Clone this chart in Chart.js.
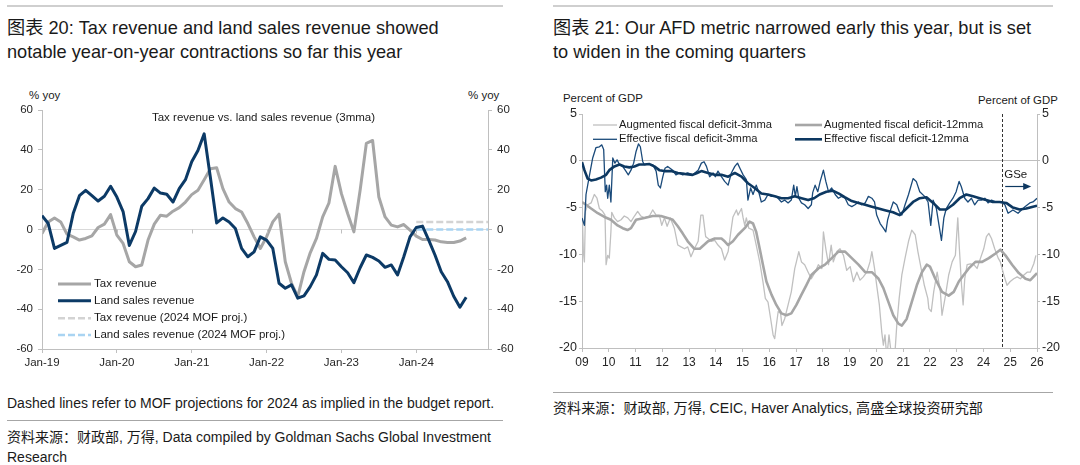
<!DOCTYPE html>
<html><head><meta charset="utf-8">
<script src="https://cdn.jsdelivr.net/npm/chart.js@4.4.1/dist/chart.umd.min.js"></script>
<style>
html,body{margin:0;padding:0;background:#fff;}
body{width:1080px;height:465px;position:relative;overflow:hidden;font-family:"Liberation Sans",Arial,"Noto Sans CJK SC",sans-serif;color:#1a1a1a;}
.rule{position:absolute;}
.title{position:absolute;font-size:18.2px;line-height:23.5px;white-space:nowrap;color:#1a1a1a;}
.note{position:absolute;font-size:14px;line-height:20px;white-space:nowrap;color:#1a1a1a;}
.unit{position:absolute;font-size:11.5px;line-height:14px;white-space:nowrap;color:#1a1a1a;}
canvas{position:absolute;}
</style></head>
<body>
<div class="rule" style="left:7px;top:5px;width:496px;height:2px;background:#cfcfcf"></div>
<div class="rule" style="left:553px;top:5px;width:500px;height:2px;background:#cfcfcf"></div>
<div class="title" style="left:7px;top:17px">图表 20: Tax revenue and land sales revenue showed<br>notable year-on-year contractions so far this year</div>
<div class="title" style="left:553px;top:17px">图表 21: Our AFD metric narrowed early this year, but is set<br>to widen in the coming quarters</div>

<div class="unit" style="left:29px;top:88px">% yoy</div>
<div class="unit" style="left:468px;top:88px">% yoy</div>
<div class="unit" style="left:563px;top:91px;font-size:11.4px">Percent of GDP</div>
<div class="unit" style="left:978px;top:93px;font-size:11.4px">Percent of GDP</div>

<canvas id="left" width="540" height="290" style="left:0;top:85px;width:540px;height:290px"></canvas>
<canvas id="right" width="535" height="290" style="left:545px;top:85px;width:535px;height:290px"></canvas>

<div class="note" style="left:7px;top:393px">Dashed lines refer to MOF projections for 2024 as implied in the budget report.</div>
<div class="rule" style="left:7px;top:420px;width:496px;height:1px;background:#a6a6a6"></div>
<div class="note" style="left:7px;top:427px">资料来源：财政部, 万得, Data compiled by Goldman Sachs Global Investment<br>Research</div>
<div class="rule" style="left:553px;top:392px;width:500px;height:1px;background:#a6a6a6"></div>
<div class="note" style="left:553px;top:398px;font-size:14.1px">资料来源：财政部, 万得, CEIC, Haver Analytics, 高盛全球投资研究部</div>

<script>
// ---------------- LEFT CHART DATA (monthly, Jan-19 = index 0, 3mma % yoy) ----------------
const leftInnerTitle = 'Tax revenue vs. land sales revenue (3mma)';
const xTickLabels = ['Jan-19','Jan-20','Jan-21','Jan-22','Jan-23','Jan-24'];
const xTickMonths = [0, 12, 24, 36, 48, 60];
const taxRevenue = [
  -2, 3.8, 5.8, 3.8, -2.3, -3.7, -5.3, -4.5, -3.2, 1, 2.7, 7.5,
  -2.8, -7, -16.2, -18.7, -17.8, -5.3, 2.7, 7.2, 6.7, 9.2, 11, 13.8,
  17.5, 19.7, 25, 30.5, 31, 20.5, 13.8, 10.5, 8.8, 3, -3.7, -9.5,
  -3.7, 3.8, 7.7, -16.2, -27, -33.7, -21.2, -11.7, -4.5, 6.3, 13.3, 31.7,
  18, 8, -1.2, 19.7, 43.3, 44.7, 16.3, 6.3, 2.2, 1.3, 2.5, -0.3,
  -3.3, -5, -5, -5.3, -6.2, -6.5, -6.5, -5.8, -4.2
];
const landRevenue = [
  7, 3, -9.5, -8, -6.5, 8, 17, 19.7, 17, 14.3, 16.7, 21.7,
  16.3, 9, -8, -1, 11.7, 15.5, 20.8, 18.3, 17.7, 13.8, 20.5, 25,
  34, 39.7, 48, 26, 3.3, 5.8, 3.8, 0.5, -9.5, -13.7, -11.2, -3.7,
  -5.3, -9.5, -27, -29.5, -27.8, -34.5, -33.3, -28.7, -22.8, -12, -15, -15.3,
  -18.7, -21.7, -26.7, -19.2, -12.8, -14, -15.8, -19, -17.8, -22.8, -13.7, -3.7,
  1, 1.7, -5.3, -12.8, -21.2, -26.2, -33.5, -39, -34
];
const projMonths = [60, 71.5];
const taxProj = [3.8, 3.8];
const landProj = [0, 0];

// ---------------- RIGHT CHART DATA ([decimal year, % of GDP]) ----------------
const forecastStart = 2024.7;
const augThin = [
 [2009.0,-4.4],[2009.05,-9.7],[2009.09,-10.8],[2009.13,-5.4],[2009.21,-4.7],[2009.34,-4.5],[2009.46,-3.6],[2009.56,-4.0],[2009.65,-5.1],[2009.77,-5.4],[2009.86,-5.8],[2009.9,-11.1],[2009.96,-10.1],
 [2010.02,-10.4],[2010.08,-7.6],[2010.11,-5.5],[2010.21,-6.1],[2010.33,-6.5],[2010.46,-6.3],[2010.58,-5.9],[2010.71,-6.1],[2010.83,-6.5],[2010.96,-5.9],
 [2011.08,-5.4],[2011.2,-5.9],[2011.33,-6.1],[2011.52,-5.9],[2011.64,-5.25],[2011.77,-5.8],[2011.89,-5.8],[2011.98,-6.9],
 [2012.08,-6.1],[2012.18,-7.0],[2012.3,-6.1],[2012.45,-7.2],[2012.58,-9.0],[2012.7,-9.2],[2012.83,-9.4],[2012.95,-9.2],
 [2013.07,-10.25],[2013.2,-9.4],[2013.34,-8.6],[2013.44,-5.8],[2013.52,-5.8],[2013.62,-8.1],[2013.71,-8.3],[2013.83,-8.6],[2013.96,-8.5],
 [2014.08,-9.0],[2014.21,-9.4],[2014.33,-10.6],[2014.46,-9.7],[2014.56,-7.6],[2014.64,-6.0],[2014.77,-5.25],[2014.83,-5.8],[2014.96,-5.1],
 [2015.02,-6.1],[2015.08,-6.9],[2015.14,-6.1],[2015.23,-7.2],[2015.39,-7.4],[2015.51,-9.0],[2015.64,-10.8],[2015.76,-12.9],[2015.85,-14.7],[2015.95,-15.1],
 [2016.05,-16.9],[2016.14,-18.6],[2016.2,-19.0],[2016.26,-17.6],[2016.33,-16.1],[2016.42,-16.3],[2016.47,-17.6],[2016.57,-16.9],[2016.7,-15.4],[2016.82,-14.0],[2016.95,-11.5],
 [2017.01,-10.8],[2017.1,-9.7],[2017.2,-10.8],[2017.32,-11.1],[2017.45,-11.9],[2017.57,-12.6],[2017.71,-11.9],[2017.83,-11.1],[2017.96,-11.5],
 [2018.02,-7.6],[2018.11,-9.4],[2018.21,-11.1],[2018.31,-9.0],[2018.39,-10.8],[2018.52,-9.7],[2018.64,-9.4],[2018.77,-10.1],[2018.89,-11.7],
 [2019.02,-11.3],[2019.14,-12.9],[2019.27,-11.9],[2019.39,-12.75],[2019.51,-12.4],[2019.64,-11.9],[2019.76,-10.8],[2019.83,-9.7],[2019.93,-11.5],
 [2020.01,-13.3],[2020.11,-15.4],[2020.2,-18.3],[2020.26,-19.7],[2020.32,-18.6],[2020.39,-21],[2020.47,-18.6],[2020.57,-21],[2020.67,-21.5],[2020.76,-17.6],[2020.85,-14.7],[2020.95,-12.2],
 [2021.07,-10.4],[2021.2,-8.6],[2021.32,-7.4],[2021.45,-7.9],[2021.55,-9.7],[2021.67,-11.5],[2021.79,-13.3],[2021.92,-14.7],[2021.96,-15.8],
 [2022.05,-16.1],[2022.14,-14.0],[2022.27,-11.9],[2022.39,-14.0],[2022.45,-16.5],[2022.58,-14.4],[2022.7,-12.2],[2022.83,-10.8],[2022.95,-10.1],
 [2023.04,-6.1],[2023.1,-9.4],[2023.18,-13.3],[2023.24,-15.4],[2023.3,-12.6],[2023.39,-11.1],[2023.51,-11.0],[2023.64,-11.1],[2023.76,-11.5],[2023.89,-10.4],
 [2024.01,-9.4],[2024.11,-8.1],[2024.2,-7.75],[2024.3,-8.3],[2024.42,-9.4],[2024.55,-10.4],[2024.63,-10.8],[2024.76,-12.2],[2024.88,-13.3],
 [2025.0,-12.9],[2025.13,-12.6],[2025.26,-12.4],[2025.38,-12.6],[2025.51,-12.2],[2025.63,-11.9],[2025.75,-11.9],[2025.88,-11.0],[2025.96,-10.1]
];
const augThick = [
 [2009.0,-4.4],[2009.15,-4.7],[2009.34,-5.1],[2009.59,-5.6],[2009.84,-6.0],[2010.08,-6.3],[2010.33,-6.9],[2010.52,-7.2],[2010.7,-7.4],[2010.83,-7.2],
 [2011.02,-6.3],[2011.33,-6.1],[2011.64,-5.9],[2011.95,-5.9],[2012.2,-6.1],[2012.39,-6.3],[2012.58,-7.0],[2012.76,-7.75],[2012.95,-8.6],
 [2013.2,-9.4],[2013.4,-9.4],[2013.71,-8.6],[2013.96,-8.3],[2014.21,-8.3],[2014.33,-8.6],[2014.46,-9.0],[2014.64,-8.6],[2014.83,-7.9],
 [2015.08,-7.2],[2015.26,-6.5],[2015.39,-6.7],[2015.51,-7.6],[2015.64,-9.4],[2015.76,-11.1],[2015.89,-12.9],[2016.08,-14.3],[2016.26,-15.4],
 [2016.45,-16.3],[2016.64,-16.5],[2016.82,-16.3],[2017.01,-15.4],[2017.2,-14.3],[2017.38,-13.3],[2017.57,-12.2],[2017.83,-11.5],
 [2018.08,-11.1],[2018.33,-10.4],[2018.58,-9.7],[2018.83,-9.7],[2019.08,-10.4],[2019.33,-11.1],[2019.58,-11.9],[2019.83,-11.9],
 [2020.08,-12.6],[2020.26,-13.6],[2020.45,-15.1],[2020.63,-16.5],[2020.82,-17.4],[2020.95,-17.6],[2021.13,-16.9],[2021.32,-15.1],
 [2021.51,-13.3],[2021.7,-11.9],[2021.88,-11.1],[2022.0,-11.3],[2022.2,-12.6],[2022.45,-14.0],[2022.7,-14.4],[2022.89,-14.0],
 [2023.08,-12.9],[2023.26,-12.2],[2023.45,-11.5],[2023.7,-10.8],[2023.95,-10.8],[2024.2,-10.4],[2024.45,-9.9],[2024.63,-9.5],
 [2024.82,-10.1],[2025.07,-11.1],[2025.32,-12.0],[2025.57,-12.6],[2025.75,-12.75],[2026.0,-12.0]
];
const effThin = [
 [2009.0,-6.1],[2009.09,-6.9],[2009.15,-3.6],[2009.27,-1.7],[2009.4,0.3],[2009.52,1.4],[2009.65,1.5],[2009.74,1.7],[2009.81,1.2],[2009.87,-3.3],[2009.92,-2.6],[2009.96,-4.0],
 [2010.02,-2.6],[2010.08,-4.4],[2010.15,0.3],[2010.23,-0.25],[2010.31,0.1],[2010.4,-0.4],[2010.52,-0.6],[2010.64,-1.1],[2010.73,-1.5],[2010.83,-1.0],[2010.93,-0.25],
 [2011.02,1.0],[2011.11,1.8],[2011.18,1.5],[2011.27,-0.1],[2011.33,-0.4],[2011.46,-0.35],[2011.64,-0.4],[2011.77,-1.1],[2011.85,-2.6],[2011.93,-2.9],
 [2012.02,-1.7],[2012.1,-0.8],[2012.2,-0.6],[2012.39,-1.0],[2012.51,-1.5],[2012.64,-1.3],[2012.76,-1.5],[2012.95,-1.3],
 [2013.14,-1.5],[2013.34,-1.0],[2013.46,-0.25],[2013.56,-0.1],[2013.65,-0.6],[2013.77,-1.7],[2013.9,-1.3],[2013.98,-1.7],
 [2014.08,-1.1],[2014.21,-1.7],[2014.33,-2.2],[2014.46,-2.6],[2014.58,-1.3],[2014.71,-0.6],[2014.81,-0.25],[2014.9,-0.8],
 [2015.02,-1.5],[2015.14,-2.0],[2015.2,-4.2],[2015.3,-2.9],[2015.39,-3.6],[2015.51,-2.6],[2015.6,-3.3],[2015.7,-4.4],[2015.83,-4.2],[2015.95,-3.6],
 [2016.08,-3.8],[2016.26,-3.8],[2016.45,-4.4],[2016.57,-4.2],[2016.7,-4.5],[2016.82,-4.2],[2016.91,-2.6],[2016.97,-3.8],
 [2017.03,-2.75],[2017.1,-4.0],[2017.2,-4.5],[2017.32,-4.7],[2017.45,-5.1],[2017.57,-4.7],[2017.62,-3.4],[2017.71,-2.6],[2017.81,-3.3],[2017.9,-2.2],
 [2018.02,-1.0],[2018.11,-2.2],[2018.21,-3.3],[2018.33,-2.9],[2018.46,-3.6],[2018.58,-4.0],[2018.7,-3.8],[2018.83,-4.0],[2018.95,-4.7],
 [2019.08,-4.9],[2019.2,-4.7],[2019.33,-4.4],[2019.45,-4.7],[2019.58,-4.5],[2019.7,-3.8],[2019.83,-4.0],[2019.93,-4.4],
 [2020.01,-5.8],[2020.14,-6.7],[2020.26,-7.2],[2020.35,-7.6],[2020.42,-6.3],[2020.51,-5.4],[2020.63,-4.4],[2020.76,-4.7],[2020.85,-5.4],[2020.95,-5.8],
 [2021.07,-4.7],[2021.2,-3.6],[2021.37,-1.9],[2021.49,-2.2],[2021.62,-3.3],[2021.8,-3.8],[2021.93,-4.4],
 [2022.03,-6.9],[2022.12,-4.2],[2022.24,-5.1],[2022.34,-6.9],[2022.43,-8.5],[2022.52,-6.1],[2022.61,-5.1],[2022.74,-4.5],[2022.86,-4.0],[2022.98,-3.3],
 [2023.09,-2.2],[2023.17,-2.75],[2023.3,-4.0],[2023.42,-4.4],[2023.55,-4.0],[2023.67,-4.7],[2023.8,-4.2],[2023.92,-4.2],
 [2024.05,-4.0],[2024.17,-4.5],[2024.3,-4.2],[2024.48,-4.4],[2024.67,-4.4],[2024.8,-4.7],[2024.92,-5.6],
 [2025.1,-5.25],[2025.29,-5.6],[2025.42,-5.25],[2025.55,-4.9],[2025.73,-4.5],[2025.85,-4.4],[2026.0,-4.0]
];
const effThick = [
 [2009.0,-0.15],[2009.09,-1.0],[2009.21,-1.9],[2009.34,-2.1],[2009.52,-2.0],[2009.71,-1.8],[2009.9,-1.5],[2010.02,-1.0],[2010.21,-0.6],[2010.4,-0.4],
 [2010.58,-0.6],[2010.77,-0.7],[2010.96,-0.6],[2011.14,-0.4],[2011.33,-0.4],[2011.52,-0.35],[2011.7,-0.6],[2011.89,-1.0],[2012.08,-1.1],[2012.33,-1.1],
 [2012.58,-1.3],[2012.83,-1.4],[2013.13,-1.5],[2013.3,-1.3],[2013.46,-1.1],[2013.71,-1.3],[2013.96,-1.5],[2014.21,-1.5],[2014.46,-1.7],[2014.71,-1.3],
 [2014.96,-1.7],[2015.2,-2.4],[2015.45,-2.9],[2015.7,-3.5],[2015.95,-3.6],[2016.2,-3.8],[2016.45,-4.0],[2016.7,-4.0],[2016.95,-3.8],[2017.2,-4.0],
 [2017.45,-4.2],[2017.67,-4.0],[2017.88,-3.6],[2018.13,-3.3],[2018.37,-3.2],[2018.6,-3.5],[2018.83,-3.9],[2019.08,-4.3],[2019.33,-4.5],[2019.58,-4.7],
 [2019.83,-4.9],[2020.08,-5.1],[2020.35,-5.3],[2020.62,-5.5],[2020.87,-5.8],[2021.12,-5.1],[2021.37,-4.4],[2021.62,-4.0],[2021.87,-3.9],[2022.12,-4.5],
 [2022.37,-5.2],[2022.61,-5.2],[2022.86,-4.7],[2023.11,-4.0],[2023.36,-3.6],[2023.61,-3.8],[2023.86,-4.0],[2024.1,-4.2],[2024.35,-4.4],[2024.6,-4.4],
 [2024.85,-4.5],[2025.1,-5.0],[2025.35,-5.2],[2025.6,-5.1],[2025.85,-4.9],[2026.0,-4.8]
];

// ---------------- helpers ----------------
Chart.defaults.font.family = '"Liberation Sans", Arial, sans-serif';
Chart.defaults.color = '#333';
const pairPts = arr => arr.map(([x, y]) => ({x, y}));
const idxPts = arr => arr.map((y, i) => ({x: i, y}));
const zipPts = (xs, ys) => xs.map((x, i) => ({x, y: ys[i]}));

function drawLegendItem(ctx, ds, x1, x2, y, tx, font) {
  ctx.save();
  ctx.strokeStyle = ds.borderColor;
  ctx.lineWidth = ds.borderWidth;
  ctx.setLineDash(ds.borderDash || []);
  ctx.beginPath(); ctx.moveTo(x1, y); ctx.lineTo(x2, y); ctx.stroke();
  ctx.setLineDash([]);
  ctx.fillStyle = '#1a1a1a';
  ctx.font = font;
  ctx.textAlign = 'left'; ctx.textBaseline = 'middle';
  ctx.fillText(ds.label, tx, y);
  ctx.restore();
}

// ---------------- LEFT CHART ----------------
const leftDecor = {
  id: 'leftDecor',
  afterDraw(chart) {
    const {ctx, scales: {x, y}} = chart;
    const y0 = y.getPixelForValue(0);
    ctx.save();
    ctx.strokeStyle = '#bfbfbf'; ctx.lineWidth = 1;
    xTickMonths.forEach(m => {
      const px = Math.round(x.getPixelForValue(m)) + 0.5;
      ctx.beginPath(); ctx.moveTo(px, y0); ctx.lineTo(px, y0 + 4); ctx.stroke();
    });
    ctx.fillStyle = '#1a1a1a';
    ctx.font = '11.5px "Liberation Sans", Arial';
    ctx.textAlign = 'center'; ctx.textBaseline = 'middle';
    ctx.fillText(leftInnerTitle, 263.5, 32.7);
    ctx.restore();
    const rows = [199, 215.7, 233.3, 250];
    [0, 1, 2, 3].forEach((di, k) => {
      drawLegendItem(ctx, chart.data.datasets[di], 58, 91, rows[k], 94, '11.5px "Liberation Sans", Arial');
    });
  }
};

new Chart(document.getElementById('left'), {
  type: 'line',
  data: {
    datasets: [
      {label: 'Tax revenue', data: idxPts(taxRevenue), borderColor: '#a6a6a6', borderWidth: 3, order: 2},
      {label: 'Land sales revenue', data: idxPts(landRevenue), borderColor: '#0c3a66', borderWidth: 3, order: 1},
      {label: 'Tax revenue (2024 MOF proj.)', data: zipPts(projMonths, taxProj), borderColor: '#d3d3d3', borderWidth: 2.5, borderDash: [7, 3], order: 3},
      {label: 'Land sales revenue (2024 MOF proj.)', data: zipPts(projMonths, landProj), borderColor: '#a9d4f2', borderWidth: 2.5, borderDash: [7, 3], order: 4}
    ]
  },
  options: {
    responsive: false, animation: false, devicePixelRatio: 1,
    layout: {padding: {top: 25, left: 0, right: 0, bottom: 0}},
    elements: {point: {radius: 0}, line: {tension: 0, borderJoinStyle: 'round', borderCapStyle: 'butt'}},
    plugins: {legend: {display: false}, tooltip: {enabled: false}},
    scales: {
      x: {
        type: 'linear', min: 0, max: 71.5,
        afterBuildTicks: s => { s.ticks = xTickMonths.map(v => ({value: v})); },
        ticks: {autoSkip: false, maxRotation: 0, padding: 3, color: '#262626', font: {size: 11.5},
          callback: v => xTickLabels[xTickMonths.indexOf(v)]},
        grid: {drawOnChartArea: false, tickLength: 4, color: '#bfbfbf'},
        border: {color: '#bfbfbf'},
        afterFit: s => { s.height = 26; }
      },
      y: {
        position: 'left', min: -60, max: 60,
        ticks: {stepSize: 20, padding: 5, color: '#262626', font: {size: 11.5}},
        grid: {color: c => (c.tick && c.tick.value === 0) ? '#d9d9d9' : 'rgba(0,0,0,0)', tickColor: '#bfbfbf', tickLength: 4},
        border: {color: '#bfbfbf'},
        afterFit: s => { s.width = 42; }
      },
      y2: {
        position: 'right', min: -60, max: 60,
        ticks: {stepSize: 20, padding: 5, color: '#262626', font: {size: 11.5}},
        grid: {drawOnChartArea: false, color: '#bfbfbf', tickLength: 4},
        border: {color: '#bfbfbf'},
        afterFit: s => { s.width = 52; }
      }
    }
  },
  plugins: [leftDecor]
});

// ---------------- RIGHT CHART ----------------
const rightDecor = {
  id: 'rightDecor',
  beforeDatasetsDraw(chart) {
    const {ctx, chartArea: a, scales: {x}} = chart;
    const px = Math.round(x.getPixelForValue(forecastStart)) + 0.5;
    ctx.save();
    ctx.strokeStyle = '#333'; ctx.lineWidth = 1; ctx.setLineDash([3, 2]);
    ctx.beginPath(); ctx.moveTo(px, a.top); ctx.lineTo(px, a.bottom); ctx.stroke();
    ctx.restore();
  },
  afterDraw(chart) {
    const {ctx, scales: {x}} = chart;
    const px = x.getPixelForValue(forecastStart);
    ctx.save();
    ctx.fillStyle = '#1a1a1a';
    ctx.font = '11.5px "Liberation Sans", Arial';
    ctx.textAlign = 'left'; ctx.textBaseline = 'middle';
    ctx.fillText('GSe', px + 2, 90);
    ctx.strokeStyle = '#0d3861'; ctx.fillStyle = '#0d3861'; ctx.lineWidth = 1.2;
    ctx.beginPath(); ctx.moveTo(px + 3, 101.5); ctx.lineTo(px + 22, 101.5); ctx.stroke();
    ctx.beginPath(); ctx.moveTo(px + 29, 101.5); ctx.lineTo(px + 21, 98); ctx.lineTo(px + 21, 105); ctx.closePath(); ctx.fill();
    ctx.restore();
    const f = '11.2px "Liberation Sans", Arial';
    const ds = chart.data.datasets;
    drawLegendItem(ctx, ds[0], 48, 72, 40, 74, f);
    drawLegendItem(ctx, ds[1], 250, 277, 40, 279, f);
    drawLegendItem(ctx, ds[2], 48, 72, 54.3, 74, f);
    drawLegendItem(ctx, ds[3], 250, 277, 54.3, 279, f);
  }
};

new Chart(document.getElementById('right'), {
  type: 'line',
  data: {
    datasets: [
      {label: 'Augmented fiscal deficit-3mma', data: pairPts(augThin), borderColor: '#c0c0c0', borderWidth: 1.3, order: 4},
      {label: 'Augmented fiscal deficit-12mma', data: pairPts(augThick), borderColor: '#a6a6a6', borderWidth: 2.6, order: 3},
      {label: 'Effective fiscal deficit-3mma', data: pairPts(effThin), borderColor: '#1a4a7a', borderWidth: 1.3, order: 2},
      {label: 'Effective fiscal deficit-12mma', data: pairPts(effThick), borderColor: '#0d3861', borderWidth: 2.6, order: 1}
    ]
  },
  options: {
    responsive: false, animation: false, devicePixelRatio: 1,
    layout: {padding: {top: 29, left: 0, right: 0, bottom: 0}},
    elements: {point: {radius: 0}, line: {tension: 0, borderJoinStyle: 'round'}},
    plugins: {legend: {display: false}, tooltip: {enabled: false}},
    scales: {
      x: {
        type: 'linear', min: 2009, max: 2026,
        ticks: {stepSize: 1, autoSkip: false, maxRotation: 0, padding: 3, color: '#262626', font: {size: 12},
          callback: v => String(v).slice(2)},
        grid: {drawOnChartArea: false, tickLength: 4, color: '#bfbfbf'},
        border: {color: '#bfbfbf'},
        afterFit: s => { s.height = 27; }
      },
      y: {
        position: 'left', min: -20, max: 5,
        ticks: {stepSize: 5, padding: 2, color: '#262626', font: {size: 12.5}},
        grid: {color: c => (c.tick && c.tick.value === 0) ? '#bfbfbf' : 'rgba(0,0,0,0)', tickColor: '#bfbfbf', tickLength: 3},
        border: {color: '#bfbfbf'},
        afterFit: s => { s.width = 37; }
      },
      y2: {
        position: 'right', min: -20, max: 5,
        ticks: {stepSize: 5, padding: 2, color: '#262626', font: {size: 12.5}},
        grid: {drawOnChartArea: false, color: '#bfbfbf', tickLength: 3},
        border: {color: '#bfbfbf'},
        afterFit: s => { s.width = 43; }
      }
    }
  },
  plugins: [rightDecor]
});
</script>
</body></html>
